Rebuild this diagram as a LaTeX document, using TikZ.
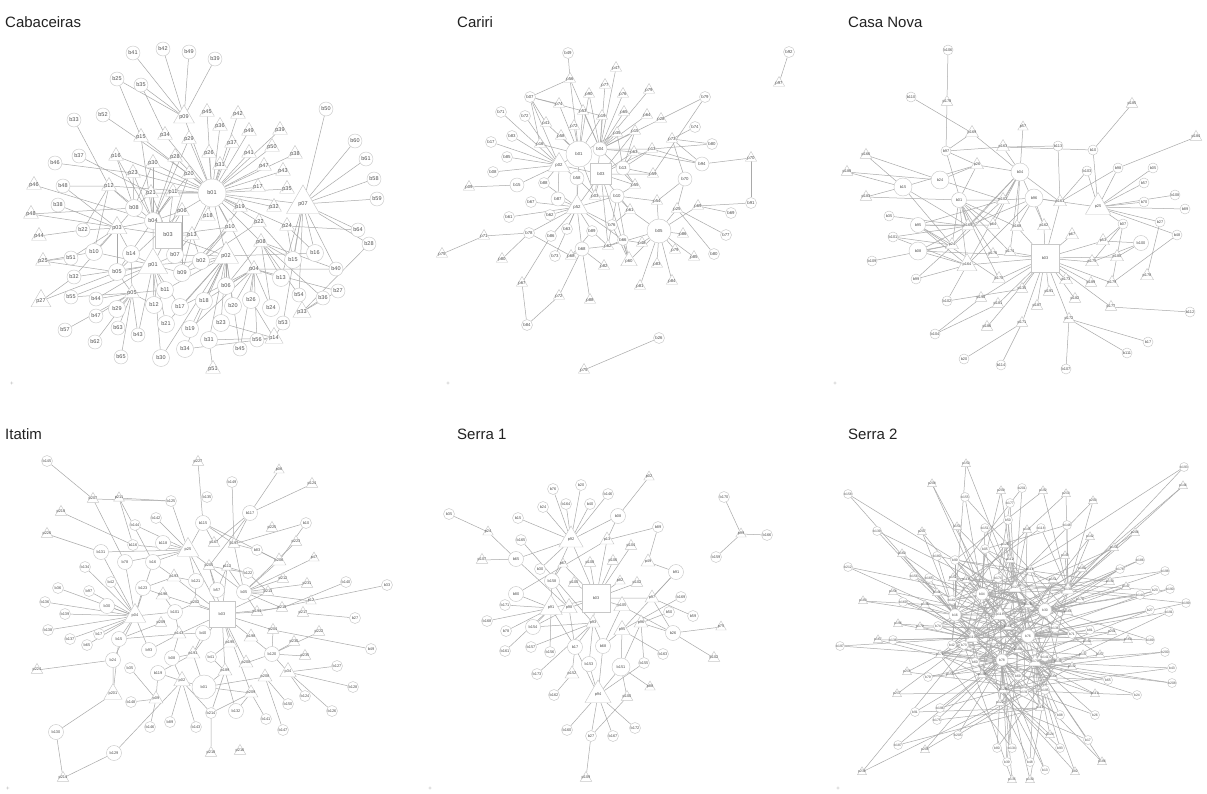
\documentclass[tikz,border=0pt]{standalone}
\usepackage{fontspec}
\setmainfont{Liberation Sans}
\usetikzlibrary{shapes.geometric}
\pgfdeclarelayer{bg}
\pgfsetlayers{bg,main}
\definecolor{edgec}{HTML}{A9A9A9}
\definecolor{nodec}{HTML}{C8C8C8}
\definecolor{txtc}{HTML}{505050}
\definecolor{titc}{HTML}{222222}
\def\bsz{12pt}\def\bszm{15pt}\def\psz{14pt}\def\pszm{17pt}\def\lbl{\fontsize{4.5}{5}\selectfont}
\tikzset{
  ed/.style={draw=edgec,line width=0.5pt},
  bn/.style={circle,draw=nodec,fill=white,line width=0.45pt,inner sep=0pt,minimum size=\bsz,font=\lbl,text=txtc},
  bnm/.style={bn,minimum size=\bszm},
  pn/.style={regular polygon,regular polygon sides=3,draw=nodec,fill=white,line width=0.45pt,inner sep=-2pt,minimum size=\psz,font=\lbl,text=txtc},
  pnm/.style={pn,minimum size=\pszm},
  sqn/.style={rectangle,draw=nodec,fill=white,line width=0.45pt,inner sep=0pt,font=\lbl,text=txtc},
  ttl/.style={anchor=base west,font=\fontsize{15}{18}\selectfont,text=titc,inner sep=0pt},
  mk/.style={font=\fontsize{6}{6}\selectfont,text=gray!60,inner sep=0pt}
}
\begin{document}
\begin{tikzpicture}[x=1pt,y=-1pt]
\begin{pgfonlayer}{bg}
\fill[white] (0,0) rectangle (1207,793);
\end{pgfonlayer}
\useasboundingbox (0,0) rectangle (1207,793);
% titles
\node[ttl] (tA) at (5,27) {Cabaceiras};
\node[ttl] (tC) at (457,27) {Cariri};
\node[ttl] (tN) at (848,27) {Casa Nova};
\node[ttl] (tI) at (5,439) {Itatim};
\node[ttl] (tS) at (457,439) {Serra 1};
\node[ttl] (tT) at (848,439) {Serra 2};
\node[mk] (m1) at (12,384) {+};
\node[mk] (m2) at (448,384) {+};
\node[mk] (m3) at (835,384) {+};
\node[mk] (m4) at (8,789) {+};
\node[mk] (m5) at (430,789) {+};
\node[mk] (m6) at (838,789) {+};

%================ Cabaceiras
\begin{scope}
\def\bsz{14pt}\def\bszm{17pt}\def\psz{17pt}\def\pszm{21pt}\def\lbl{\fontsize{5.5}{6}\selectfont}
\foreach \n/\x/\y in {b41/133/53, b42/163/49, b49/189/52, b39/215/59, b25/117/79, b35/141/85, b50/326/109, b33/74/120, b52/103/115, b37/79/156, b46/55/163, b60/355/141, b61/366/159, b58/374/179, b59/377/199, b48/63/186, b38/58/205, b22/83/230, b64/358/230, b28/369/244, b51/71/258, b32/74/277, b40/336/269, b55/71/297, b44/96/299, b27/338/291, b54/299/295, b36/323/298, b47/96/316, b53/283/323, b57/65/330, b63/118/328, b43/138/335, b56/257/340, b62/95/342, b45/240/349, b65/121/357}
  \node[bn] (a\n) at (\x,\y) {\n};
\foreach \n/\x/\y in {b08/134/208, b04/153/221, b10/94/252, b14/131/254, b07/175/255, b02/201/261, b16/315/253, b15/293/260, b05/117/272, b09/182/273, b13/281/278, b11/165/290, b06/226/286, b18/204/301, b26/251/300, b20/233/306, b24/271/308, b29/117/309, b12/154/305, b17/180/307, b23/221/323, b21/166/324, b19/190/329, b31/209/340, b34/185/349, b30/161/358}
  \node[bnm] (a\n) at (\x,\y) {\n};
\foreach \n/\x/\y in {p45/207/112, p42/238/114, p36/220/126, p49/249/131, p39/280/130, p15/141/137, p34/165/135, p29/189/139, p37/232/143, p50/272/147, p26/209/153, p41/249/153, p38/295/154, p16/116/156, p28/175/157, p30/153/163, p31/220/165, p47/264/166, p43/283/171, p23/133/173, p20/189/174, p46/34/185, p12/109/186, p17/258/187, p35/287/189, p11/173/192, p21/151/193, p19/240/207, p32/274/207, p06/182/211, p48/31/214, p18/208/216, p22/259/222, p24/287/226, p10/230/227, p44/39/236, p13/192/235, p08/261/242, p25/43/261, p04/254/269, p05/132/293, p51/213/369}
  \node[pn] (a\n) at (\x,\y) {\n};
\node[bn,minimum size=28pt] (ab01) at (212,193) {b01};
\node[sqn,minimum size=26pt] (ab03) at (168,235) {b03};
\node[pn,minimum size=24pt] (ap09) at (184,117) {p09};
\node[pn,minimum size=38pt] (ap07) at (303,204) {p07};
\node[pn,minimum size=23pt] (ap03) at (117,228) {p03};
\node[pn,minimum size=29pt] (ap02) at (226,256) {p02};
\node[pn,minimum size=34pt] (ap01) at (153,265) {p01};
\node[pn,minimum size=23pt] (ap27) at (41,301) {p27};
\node[pn,minimum size=21pt] (ap33) at (302,312) {p33};
\node[pn,minimum size=21pt] (ap14) at (274,338) {p14};
\begin{pgfonlayer}{bg}
\foreach \h/\L in {p09/{b41,b42,b49,b39,b25,b35,b01},
 b01/{p45,p42,p36,p49,p39,p37,p50,p26,p41,p38,p31,p47,p43,p17,p35,p32,p19,p22,p24,p10,p18,p06,p20,p29,p28,p11,p21,p30,p23,p16,p12,p34,p15,p07,p13,p02,p08,p04},
 p07/{b50,b60,b61,b58,b59,b64,b16,b15,b13,b53,b54},
 b04/{p23,p21,p11,p06,p30,p12,p03,p16,p15,p28,p20,p29,p01,p46},
 b08/{p12,p16,p21,p23,p03,p30,p48},
 b03/{p06,p11,p01,p13,p10,p02,p20,p21,p48},
 b10/{p03,p25,p01,p12}, b05/{p01,p03,p25,p27,p05,p06,p11},
 b22/{p44,p03,p12}, b48/{p03,p12}, b38/{p03}, b51/{p03,p25}, b32/{p27,p01,p03},
 b55/{p01,p05}, b44/{p05,p01}, b29/{p05}, b47/{p05}, b57/{p05}, b62/{p05}, b63/{p05},
 b43/{p01,p05}, b65/{p05}, b12/{p01,p05}, b21/{p01,p02}, b30/{p01,p02}, b11/{p01,p05,p02},
 b09/{p01,p02,p13,p10,p06}, b07/{p01,p02,p13}, b14/{p01,p03,p05}, b17/{p01,p02,p04},
 b19/{p02,p04}, b34/{p14,p02}, b31/{p02,p14,p51}, b18/{p02,p04}, b06/{p02,p04,p08},
 b23/{p02,p14}, b20/{p02,p04}, b26/{p04,p14}, b24/{p04,p08}, b13/{p04,p08}, b45/{p04,p02},
 b56/{p14,p04}, b53/{p14}, b54/{p08}, b36/{p33,p08}, b27/{p33,p04}, b28/{p33,p07},
 b40/{p04,p08,p07}, b02/{p02,p01,p10,p13,p22,p19}, b15/{p08,p24,p22}, b16/{p24,p02}, b64/{p24},
 b37/{p21}, b46/{p23}, b52/{p20}, b33/{p12}, b25/{p15}, b35/{p34}}
 {\foreach \v in \L {\draw[ed] (a\h) -- (a\v);}}
\end{pgfonlayer}
\end{scope}

%================ Cariri
\begin{scope}
\def\bsz{11pt}\def\bszm{14pt}\def\psz{13pt}\def\pszm{16pt}\def\lbl{\fontsize{4.3}{5}\selectfont}
\foreach \n/\x/\y in {b49/568/53, b07/530/97, b71/501/112, b72/525/116, b83/512/136, b17/491/142, b85/507/157, b08/493/172, b88/544/183, b67/531/202, b61/509/217, b62/550/215, b79/705/97, b74/695/127, b80/712/144, b91/751/203, b69/731/213, b92/789/52, b76/612/225, b78/529/233, b86/551/236, b63/567/229, b89/592/231, b77/726/235, b73/555/256, b66/623/240, b84/527/325, b26/659/338}
  \node[bn] (c\n) at (\x,\y) {\n};
\foreach \n/\x/\y in {b04/600/149, b13/623/168, b58/577/178, b15/517/185, b87/558/199, b94/702/164, b70/685/179, b68/582/249, b10/617/196}
  \node[bnm] (c\n) at (\x,\y) {\n};
\foreach \n/\x/\y in {p47/616/68, p56/570/79, p77/605/85, p90/589/94, p76/623/94, p79/649/90, p74/559/104, p53/583/111, p19/602/116, p65/624/112, p64/647/115, p28/661/119, p41/546/123, p72/574/126, p35/617/133, p15/635/131, p73/672/139, p58/561/136, p16/540/144, p63/634/152, p13/652/149, p70/751/158, p59/653/174, p55/635/185, p09/469/187, p03/595/196, p54/657/201, p61/630/210, p25/677/209, p69/698/206, p97/779/83, p71/484/236, p75/442/254, p86/683/234, p80/502/259, p68/571/256, p62/608/246, p48/642/243, p85/694/257, p82/604/266, p83/657/264, p67/522/283, p81/640/286, p84/672/281, p88/590/300}
  \node[pn] (c\n) at (\x,\y) {\n};
\node[pn] (cp79x) at (675,250) {p79};
\node[pn] (cp72x) at (559,296) {p72};
\node[pn] (cp75x) at (584,370) {p75};
\node[bn] (cb80x) at (714,254) {b80};
\node[bn,minimum size=26pt] (cb01) at (579,154) {b01};
\node[bn,minimum size=24pt] (cb05) at (659,231) {b05};
\node[sqn,minimum size=21pt] (cb03) at (601,174) {b03};
\node[pn,minimum size=25pt] (cp02) at (559,165) {p02};
\node[pn,minimum size=25pt] (cp52) at (577,207) {p52};
\node[pn,minimum size=19pt] (cp60) at (629,261) {p60};
\begin{pgfonlayer}{bg}
\foreach \h/\L in {p56/{b49,b07,b01,b04},
 b07/{p74,p16,p19,p02,p41},
 b01/{p90,p53,p72,p58,p41,p74,p02,p52,p03,p19,p35,p16},
 b04/{p47,p77,p76,p65,p19,p53,p15,p35,p63,p13,p64,p28,p55,p03,p90,p79},
 p02/{b71,b72,b83,b17,b85,b08,b15,b88,b87,b58,b03},
 p52/{b88,b87,b67,b61,b62,b58,b03,b10,b76,b66,b89,b63,b86,b78,b73,b68},
 b03/{p03,p63,p13,p55,p61,p60,p62,p59,p15},
 b10/{p03,p61,p55,p60,p54,p62},
 b13/{p63,p15,p13,p55,p59,p35},
 b79/{p28,p59}, b74/{p73}, b80/{p73,p13}, b94/{p13,p63,p70,p73}, b70/{p54,p25,p73},
 b91/{p70,p69}, b69/{p69}, b92/{p97},
 b05/{p61,p54,p25,p86,p79x,p85,p83,p81,p84,p60,p48,p62,p69},
 b77/{p25}, b80x/{p25}, b76/{p61,p60}, b66/{p62,p48,p60}, b89/{p62,p68}, b86/{p67},
 b78/{p71,p80,p68}, b68/{p68,p72x,p88,p62,p82}, b84/{p67,p72x}, b26/{p75x},
 p71/{p75}, b15/{p09}, b58/{p03}}
 {\foreach \v in \L {\draw[ed] (c\h) -- (c\v);}}
\end{pgfonlayer}
\end{scope}

%================ Casa Nova
\begin{scope}
\def\bsz{10pt}\def\bszm{15pt}\def\psz{12pt}\def\pszm{15pt}\def\lbl{\fontsize{3.9}{4.5}\selectfont}
\foreach \n/\x/\y in {b106/948/50, b110/911/97, b97/946/151, b113/1058/146, b10/1093/150, b103/1087/171, b98/1118/168, b05/1153/168, b57/1144/183, b108/1175/195, b70/1144/202, b89/1185/209, b35/889/216, b07/1123/224, b27/1160/222, b48/1177/235, b101/893/237, b109/872/261, b99/916/279, b102/947/301, b112/1190/312, b104/935/334, b17/1148/342, b111/1127/353, b20/964/359, b114/1001/365, b107/1066/369}
  \node[bn] (n\n) at (\x,\y) {\n};
\foreach \n/\x/\y in {b01/959/200, b95/918/225, b100/1141/243}
  \node[bnm] (n\n) at (\x,\y) {\n};
\foreach \n/\x/\y in {b04/1020/172, b24/940/180, b15/903/187, b96/1034/198, b08/918/251}
  \node[bn,minimum size=18pt] (n\n) at (\x,\y) {\n};
\foreach \n/\x/\y in {p178/947/102, p185/1132/104, p57/1023/127, p184/1196/137, p166/866/155, p188/847/172, p183/866/197, p176/993/254, p174/1010/252, p189/1091/283, p135/1022/289, p190/981/298, p191/1049/292, p182/1075/299, p181/998/304, p187/1037/306, p172/1069/319, p171/1022/323, p186/987/327, p177/1111/307}
  \node[pn] (n\n) at (\x,\y) {\n};
\foreach \n/\x/\y in {p169/972/133, p163/1003/147, p26/977/165, p102/1003/200, p161/1060/202, p64/993/225, p168/1017/227, p162/1044/226, p67/1072/235, p53/1103/241, p175/1092/262, p180/1117/257, p170/999/279, p173/1066/280, p179/1112/283, p165/968/226, p24/952/245}
  \node[pnm] (n\n) at (\x,\y) {\n};
\node[pnm] (np178x) at (1147,276) {p178};
\node[sqn,minimum size=28pt] (nb03) at (1045,258) {b03};
\node[pn,minimum size=29pt] (np25) at (1098,207) {p25};
\node[pn,minimum size=23pt] (np164) at (967,265) {p164};
\begin{pgfonlayer}{bg}
\foreach \h/\L in {b106/{p178}, b110/{p169}, b97/{p169,p178,p26,p165,p163},
 b04/{p169,p163,p57,p26,p102,p165,p64,p168,p162,p161,p24,p164,p174},
 b113/{p163,p161}, b10/{p163,p185,p25}, b98/{p184,p25,p161}, b103/{p25,p161},
 p25/{b05,b57,b108,b70,b89,b07,b27,b48,b96},
 b24/{p26,p166,p188,p102}, b15/{p166,p188,p183,p26,p165,p24},
 b01/{p183,p102,p165,p64,p168,p164,p24,p176,p174,p170,p26},
 b96/{p102,p161,p168,p162,p165,p164}, b35/{p165}, b95/{p165,p164,p24,p64,p102,p170},
 b101/{p24,p164,p165}, b08/{p24,p164,p176,p165}, b109/{p24}, b99/{p164,p102}, b102/{p164,p135},
 b03/{p176,p174,p164,p170,p135,p191,p187,p181,p190,p171,p172,p173,p175,p189,p182,p53,p67,p161,p162,p168,p180,p177,p179,p186},
 b100/{p53,p180,p175}, b07/{p53,p175,p179}, b27/{p178x}, b48/{p179}, b112/{p177},
 b17/{p172}, b111/{p172}, b107/{p172}, b114/{p171}, b20/{p171}, b104/{p190,p181}}
 {\foreach \v in \L {\draw[ed] (n\h) -- (n\v);}}
\end{pgfonlayer}
\end{scope}

%================ Itatim
\begin{scope}
\def\bsz{11pt}\def\bszm{15pt}\def\psz{12pt}\def\pszm{16pt}\def\lbl{\fontsize{3.9}{4.5}\selectfont}
\foreach \n/\x/\y in {b145/47/461, b149/232/482, b135/207/497, b125/171/501, b142/156/518, b10/306/523, b144/135/525, b83/257/550, b134/85/567, b122/248/573, b42/111/582, b140/346/582, b33/387/585, b36/58/588, b97/89/591, b136/45/602, b139/65/614, b27/355/618, b138/48/630, b17/99/634, b137/70/639, b65/87/645, b49/371/649, b41/211/657, b127/337/666, b35/130/668, b128/353/687, b148/131/702, b124/305/696, b150/288/704, b126/332/711, b214/211/713, b146/150/727, b89/170/722, b143/196/727, b141/266/719, b147/283/730, b116/133/545}
  \node[bn] (i\n) at (\x,\y) {\n};
\foreach \n/\x/\y in {b117/250/513, b115/203/523, b118/163/543, b131/101/552, b78/125/562, b16/153/562, b121/196/581, b123/143/588, b57/217/590, b05/244/592, b30/107/606, b101/175/612, b15/119/639, b40/203/633, b93/149/650, b24/113/660, b08/172/658, b120/272/654, b119/158/673, b132/236/711, b130/56/732, b129/114/753}
  \node[bnm] (i\n) at (\x,\y) {\n};
\foreach \n/\x/\y in {p227/198/462, p06/279/470, p124/312/484, p207/93/499, p211/119/498, p218/61/512, p225/272/528, p226/47/534, p223/296/542, p47/314/558, p212/283/579, p231/307/584, p12/311/601, p217/303/613, p204/273/630, p222/319/632, p230/294/642, p235/305/656, p224/37/670, p216/240/751, p214/63/778, p167/214/543, p197/234/544, p205/209/566, p112/227/567, p202/195/603, p194/257/612, p209/161/623, p213/268/592, p210/282/608}
  \node[pn] (i\n) at (\x,\y) {\n};
\foreach \n/\x/\y in {p206/279/561, p193/174/577, p196/163/595, p143/179/634, p198/251/637, p195/230/643, p191/193/654, p200/246/663, p189/225/671, p208/265/677, p09/156/699}
  \node[pnm] (i\n) at (\x,\y) {\n};
\node[pn,minimum size=19pt] (ip02) at (182,681) {p02};
\node[pn,minimum size=19pt] (ip34) at (288,672) {p34};
\node[pn,minimum size=21pt] (ip201) at (113,694) {p201};
\node[pnm] (ip209x) at (251,693) {p209};
\node[pn] (ip218x) at (211,753) {p218};
\node[pn,minimum size=25pt] (ip25) at (188,550) {p25};
\node[pn,minimum size=25pt] (ip04) at (135,616) {p04};
\node[bn,minimum size=24pt] (ib01) at (204,687) {b01};
\node[sqn,minimum size=26pt] (ib03) at (222,614) {b03};
\begin{pgfonlayer}{bg}
\foreach \h/\L in {p207/{b145,b125,b78}, p211/{b125,b16,b116}, b125/{p25}, p227/{b115},
 p197/{b149,b117,b10,b115,b83,b05}, b117/{p06,p124,p167,p205}, b10/{p206},
 p25/{b142,b144,b116,b118,b115,b131,b78,b16,b121,b03,b05},
 p218/{b116}, p226/{b131}, b115/{p167,p206}, b83/{p206},
 b05/{p223,p47,p206,p212,p213,p231,p210,p194,p12,p112},
 p04/{b131,b78,b16,b134,b42,b36,b97,b123,b136,b30,b101,b139,b138,b17,b137,b65,b15,b93,b24},
 b16/{p193}, b122/{p205,p112,p213}, b121/{p193,p202}, b140/{p210}, b33/{p194},
 b123/{p193,p196}, b57/{p205,p112}, b101/{p196,p202,p143}, b27/{p217},
 b03/{p205,p112,p202,p196,p143,p194,p198,p195,p191,p189,p200,p209x,p193,p213,p210,p204},
 b15/{p143,p209,p201}, b40/{p143,p191}, b49/{p204}, b93/{p143}, b24/{p201,p224},
 b08/{p143,p191,p02}, b41/{p195,p189}, b120/{p198,p200,p34,p204,p230,p235,p222},
 b127/{p34}, b35/{p09}, b119/{p191,p02,p09}, b128/{p34},
 b01/{p02,p189,p191,p208,p209x}, b148/{p09}, b124/{p34}, b150/{p208}, b126/{p34},
 b214/{p02,p189,p209x,p218x}, b132/{p209x,p189}, b130/{p201,p214}, b146/{p09},
 b89/{p02}, b143/{p02}, b141/{p209x}, b147/{p208}, b129/{p214,p02}}
 {\foreach \v in \L {\draw[ed] (i\h) -- (i\v);}}
\end{pgfonlayer}
\end{scope}

%================ Serra 1
\begin{scope}
\def\bsz{11pt}\def\bszm{15pt}\def\psz{12pt}\def\pszm{16pt}\def\lbl{\fontsize{3.9}{4.5}\selectfont}
\foreach \n/\x/\y in {b76/553/489, b20/581/485, b146/608/494, b24/543/507, b164/566/504, b40/590/504, b170/724/497, b35/449/514, b15/518/518, b89/658/527, b165/521/540, b166/767/535, b159/716/557, b169/681/597, b171/505/605, b50/669/612, b59/693/616, b168/487/621, b78/506/631, b161/505/651, b157/531/647, b156/550/652, b163/663/654, b155/644/663, b173/537/674, b162/554/695, b160/567/730, b167/613/736, b172/635/728, b30/540/569, b27/591/736}
  \node[bn] (s\n) at (\x,\y) {\n};
\foreach \n/\x/\y in {b08/618/516, b65/516/559, b91/676/572, b158/552/581, b80/516/594, b154/533/627, b26/673/633, b17/575/647, b68/603/646, b153/589/664}
  \node[bnm] (s\n) at (\x,\y) {\n};
\node[bn,minimum size=18pt] (sb151) at (621,667) {b151};
\foreach \n/\x/\y in {p02/649/477, p24/488/532, p99/741/534, p104/631/546, p107/482/560, p67/563/564, p108/590/563, p106/613/561, p100/574/583, p82/620/581, p102/637/583, p75/721/627, p88/650/687, p109/586/778}
  \node[pn] (s\n) at (\x,\y) {\n};
\foreach \n/\x/\y in {p13/607/540, p49/648/562, p97/652/598, p93/593/623, p96/641/623, p152/572/674}
  \node[pnm] (s\n) at (\x,\y) {\n};
\foreach \n/\x/\y in {p98/569/608, p105/622/606, p95/622/630}
  \node[pn,minimum size=19pt] (s\n) at (\x,\y) {\n};
\node[pn] (sp102x) at (714,658) {p102};
\node[pn] (sp100x) at (627,697) {p100};
\node[sqn,minimum size=28pt] (sb03) at (596,598) {b03};
\node[pn,minimum size=28pt] (sp92) at (571,540) {p92};
\node[pn,minimum size=26pt] (sp91) at (551,608) {p91};
\node[pn,minimum size=30pt] (sp94) at (598,695) {p94};
\begin{pgfonlayer}{bg}
\foreach \h/\L in {p92/{b76,b20,b146,b24,b164,b40,b15,b08,b65,b30,b03,b158},
 p13/{b89,b08,b03,b80}, p02/{b08}, p24/{b35,b65}, p107/{b65},
 p98/{b65,b03,b17,b154,b158}, b165/{p93}, b158/{p67,p91},
 b03/{p108,p106,p100,p82,p102,p97,p105,p93,p91,p104,p67},
 p49/{b89,b91}, b91/{p97,p95}, b169/{p95}, b50/{p96}, b59/{p97},
 b26/{p97,p75,p102x,p105,p96}, p99/{b170,b166,b159},
 p91/{b171,b168,b78,b80,b154,b161,b156,b17},
 p93/{b154,b157,b17,b68,b153,b173}, b17/{p152,p94}, b68/{p94,p95,p105},
 b163/{p95}, b153/{p94}, b151/{p94,p96,p95,p100x,p88}, b155/{p96,p94},
 b162/{p152}, p94/{b160,b27,b167,b172}, b27/{p100x,p109}}
 {\foreach \v in \L {\draw[ed] (s\h) -- (s\v);}}
\end{pgfonlayer}
\end{scope}

%================ Serra 2
\begin{scope}
\def\bsz{9pt}\def\bszm{13pt}\def\psz{10.5pt}\def\pszm{15pt}\def\lbl{\fontsize{3.4}{4}\selectfont}
\foreach \n/\x/\y in {b158/848/494, b201/1022/488, b193/1184/467, b155/965/497, b177/1010/503, b139/877/531, b151/985/528, b50/1008/520, b118/1041/528, b148/1067/525, b180/937/556, b99/955/560, b05/985/549, b186/1140/560, b178/1120/569, b198/1165/571, b212/848/567, b156/914/576, b165/929/578, b174/998/578, b144/1140/595, b23/1155/590, b190/1170/589, b169/903/602, b162/952/600, b27/1150/610, b191/1169/612, b199/1186/603, b74/938/626, b138/893/640, b136/1055/628, b71/1072/634, b81/1090/630, b189/1150/640, b200/1165/652, b197/840/646, b73/964/645, b60/975/662, b141/1045/657, b43/1172/668, b208/1172/683, b79/928/677, b69/1018/676, b131/1024/692, b195/1045/690, b65/1108/680, b24/1137/695, b91/915/712, b196/940/708, b175/937/720, b08/1060/715, b26/1095/715, b17/1088/740, b187/898/745, b205/958/735, b134/1012/748, b80/997/748, b39/1007/762, b48/1030/762, b93/1060/748, b13/1045/770, b42/952/645}
  \node[bn] (t\n) at (\x,\y) {\n};
\foreach \n/\x/\y in {p150/966/464, p208/932/484, p209/1001/491, p192/1043/491, p146/1183/486, p213/1066/494, p203/1093/501, p207/922/532, p153/957/527, p145/1027/530, p142/1090/537, p154/1114/548, p206/1135/533, p160/902/554, p126/1005/545, p112/1010/560, p143/1065/556, p180/1082/569, p158/893/592, p141/937/593, p152/953/578, p116/1030/570, p151/1053/580, p147/1126/587, p130/1110/582, p183/863/601, p136/925/605, p176/1028/605, p173/1080/600, p165/1068/612, p196/898/624, p170/920/627, p167/878/640, p168/1008/627, p140/1087/642, p169/1128/640, p201/1112/632, p171/940/655, p184/1018/650, p137/1083/655, p157/1100/655, p132/1072/667, p215/907/672, p155/950/675, p128/1003/690, p164/1053/677, p119/1095/694, p217/897/694, p122/1000/703, p113/1040/708, p124/1050/735, p205/925/750, p186/1102/762, p82/1075/772, p135/1012/780, p236/862/772, p114/966/580, p139/982/675, p133/1058/662}
  \node[pn] (t\n) at (\x,\y) {\n};
\node[pn] (tp130x) at (1030,780) {p130};
\node[pn,minimum size=17pt] (tp118) at (1000,615) {p118};
\node[bn,minimum size=13pt] (tb76) at (1028,636) {b76};
\node[pn,minimum size=15pt] (tp110) at (972,638) {p110};
\node[bn,minimum size=13pt] (tb30) at (1045,610) {b30};
\node[pn,minimum size=15pt] (tp174) at (1035,662) {p174};
\node[bn,minimum size=12pt] (tb04) at (982,594) {b04};
\node[pn,minimum size=15pt] (tp134) at (1068,590) {p134};
\node[bn,minimum size=12pt] (tb16) at (955,615) {b16};
\node[pn,minimum size=15pt] (tp127) at (1015,588) {p127};
\node[bn,minimum size=12pt] (tb78) at (1002,660) {b78};
\begin{pgfonlayer}{bg}
\foreach \h/\L in {b158/{b16,p176}, p150/{p127,b42}, p208/{b04,p168}, p209/{p127,b73}, b201/{p127,p152},
 p192/{p134,b99}, b193/{p134,b74}, p146/{p134,b60}, b155/{b04,p165}, b177/{p127,p139},
 p213/{p134,b162}, p203/{p134,b42}, b139/{b16,p176}, p207/{b16,p184}, p153/{b04,b136},
 b151/{b04,p164}, b50/{p127,b69}, p145/{p127,b131}, b118/{p134,p114}, b148/{p134,b05},
 p142/{p134,p139}, p154/{p134,b74}, p206/{p134,b73}, p160/{b16,p168}, b180/{b16,p151},
 b186/{p134,p171}, b178/{b30,b60}, b198/{b30,b162}, p180/{p134,b42}, b212/{b16,p165},
 b156/{b16,p133}, p158/{p110,b136}, b165/{b16,p176}, p141/{p110,b71}, p147/{b30,b73},
 b144/{b30,p114}, b23/{b76,p152}, b190/{b30,p171}, p130/{b30,b99}, b169/{b16,p184},
 p136/{p110,b195}, p183/{b16,p165}, b27/{b76,p139}, b191/{b76,p128}, b199/{b76,p114},
 p196/{p110,b71}, p170/{p110,b136}, p167/{p110,b69}, b138/{p110,p164}, b81/{b76,p171},
 p140/{p174,b05}, b189/{b76,p152}, p169/{b76,b42}, b200/{p174,p139}, p201/{b76,b60},
 b197/{p110,p133}, b141/{p174,p126}, p137/{p174,b73}, p157/{p174,b99}, p132/{p174,b131},
 b43/{p174,p128}, b208/{p174,p171}, p215/{p110,b195}, b79/{b78,p133}, p155/{b78,p176},
 b65/{p174,p139}, p119/{p174,b42}, b24/{p174,p128}, p217/{p110,b131}, b91/{b78,p113},
 b196/{b78,p164}, b175/{b78,p113}, b08/{p174,p171}, b26/{p174,p139}, p124/{p174,b60},
 b17/{p174,p122}, b187/{b78,p113}, p205/{b78,b131}, b205/{b78,p164}, b134/{b78,p171},
 b80/{b78,p133}, b39/{b78,p184}, b48/{p174,p122}, b93/{p174,p139}, b13/{b78,p128},
 p186/{p174,b69}, p82/{p174,b60}, p130x/{b78,b195}, p135/{b78,b73}, p236/{p110,b131},
 p143/{p134,b162}, p173/{b30,b42},
 p112/{p118,b30,b04}, b174/{p118,p127,p110}, p116/{b30,p127,p118}, p114/{b16,b04,p118},
 b162/{b16,p110,p127}, b74/{p110,p118,p174}, p168/{p118,b76,b16}, b136/{b76,p174,p127},
 p184/{p174,b78,b04}, b69/{b78,p174,p110}, p128/{b78,p174,p118}, p139/{b78,p110,p118},
 b42/{p110,b16,b78}, p176/{b30,b76,p110}, p165/{b76,b30,b04}, b05/{b04,p118,p134},
 p126/{p127,p118,b16}, p152/{b16,b04,p174}, b99/{b04,b16,b76}, p151/{b30,p134,b78},
 b71/{b76,b30,p110}, p164/{p174,b76,b16}, p133/{p174,b76,b30}, b73/{p110,b78,b30},
 p171/{p110,b78,p127}, b60/{b78,p110,b76}, p122/{b78,p174,b04}, p113/{p174,b78,p127},
 b131/{b78,p174,b16}, b195/{p174,b78,p134},
 p118/{b76,p110,b30,p174,b04,p134,b16,p127,b78},
 b76/{p110,b04,b16,p127,b78}, p110/{b30,b04,p127,p174}, b30/{p174,b04,b16,b78,p127},
 p174/{b04,b16,p127,p134}, b04/{p134,b78,p127}, p134/{b16,b78}, b16/{p127,b78}, p127/{b78}}
 {\foreach \v in \L {\draw[ed] (t\h) -- (t\v);}}
\end{pgfonlayer}
\end{scope}
\end{tikzpicture}
\end{document}
